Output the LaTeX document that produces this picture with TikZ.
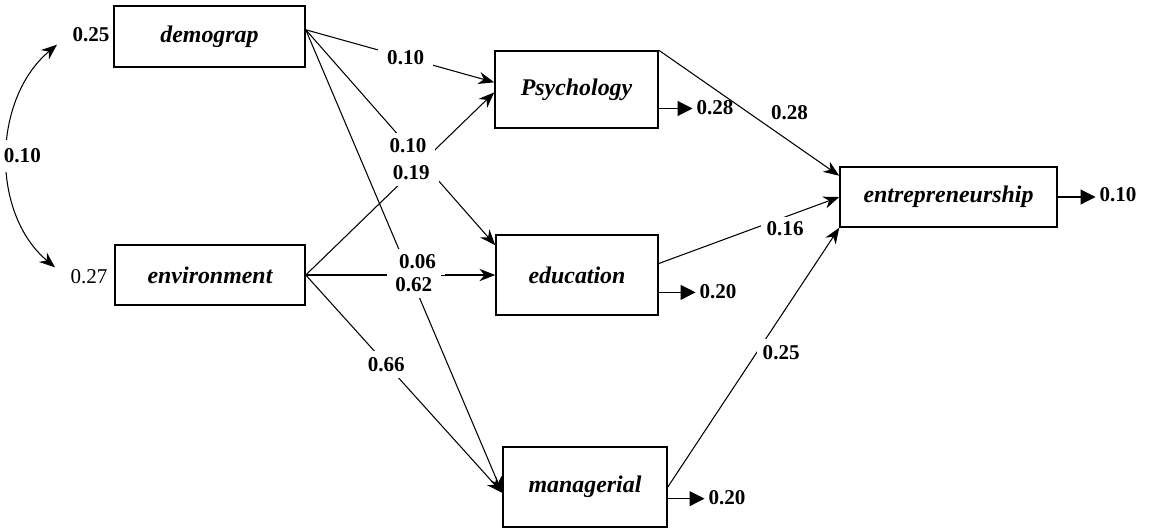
\documentclass[tikz,border=0pt]{standalone}
\usepackage{fontspec}
\setmainfont{Liberation Serif}
\usetikzlibrary{arrows.meta}

\begin{document}
\begin{tikzpicture}[x=0.02cm, y=0.02cm, line width=0.6pt, >={Stealth[length=9pt,width=7pt]}]
 \tikzstyle{every node}=[inner sep=2pt]
 \tikzstyle{var}=[draw, rectangle, line width=0.9pt, font=\fontsize{13.6}{16}\selectfont\bfseries\itshape]
 \tikzstyle{coef}=[fill=white, inner xsep=5pt, inner ysep=3.5pt, font=\fontsize{12}{14}\selectfont\bfseries]
 \tikzstyle{rlab}=[fill=white, font=\fontsize{12}{14}\selectfont\bfseries]
 \tikzstyle{res}=[-{Triangle[length=8.5pt,width=8.5pt]}]
 \useasboundingbox (0,0) rectangle (1149,-529);
 % variables
 \node[var, minimum width=3.82cm, minimum height=1.22cm] (dem) at (209.5,-36.5) {demograp};
 \node[var, minimum width=3.80cm, minimum height=1.20cm] (env) at (210,-275) {environment};
 \node[var, minimum width=3.26cm, minimum height=1.54cm] (psy) at (576.5,-89.5) {Psychology};
 \node[var, minimum width=3.24cm, minimum height=1.60cm] (edu) at (577,-275) {education};
 \node[var, minimum width=3.28cm, minimum height=1.60cm] (man) at (585,-487) {managerial};
 \node[var, minimum width=4.34cm, minimum height=1.20cm] (ent) at (948.5,-197) {entrepreneurship};
 % variances and residuals
 \node[rlab] (vdem) at (91,-35) {0.25};
 \node[rlab, font=\fontsize{12}{14}\selectfont] (venv) at (89,-277) {0.27};
 \node[rlab] (rpsy) at (715,-108) {0.28};
 \node[rlab] (redu) at (718,-292) {0.20};
 \node[rlab] (rman) at (727,-498) {0.20};
 \node[rlab] (rent) at (1118,-195) {0.10};
 % paths
 \draw[<->, shorten <=0.3cm, shorten >=0.3cm] (vdem.west) to[out=220, in=140, looseness=1.05] node[coef, xshift=0.24cm, inner xsep=2pt, inner ysep=5pt]{0.10} (venv.west);
 \draw[->] (dem.4) to node[coef, pos=0.53, inner ysep=2.5pt]{0.10} (psy.175);
 \draw[->] (dem.4) to coordinate[pos=0.54] (m1) (edu.160);
 \draw[->] (env.east) to coordinate[pos=0.56] (m2) (psy.182);
 \draw[->] (dem.4) to coordinate[pos=0.55] (m3) (man.184);
 \draw[->] (env.east) to coordinate[pos=0.59] (m4) (edu.west);
 \draw[->] (env.east) to node[coef, pos=0.41]{0.66} (man.184);
 \draw[->] (psy.north east) to node[coef, pos=0.59, anchor=south west, inner xsep=3pt, inner ysep=2.5pt]{0.28} (ent.169);
 \draw[->] (edu.8) to node[coef, pos=0.7, below, inner xsep=3pt, inner ysep=2.5pt]{0.16} (ent.west);
 \draw[->] (man.east) to node[coef, pos=0.52, right, inner xsep=3pt]{0.25} (ent.south west);
 \node[coef] at (m1) {0.10};
 \node[coef] at (m2) {0.19};
 \node[coef] at (m3) {0.62};
 \node[coef, yshift=0.26cm] at (m4) {0.06};
 % residual arrows
 \draw[res] (psy.-13) -- (psy.-13 -| rpsy.west);
 \draw[res] (edu.-12) -- (edu.-12 -| redu.west);
 \draw[res] (man.-8) -- (man.-8 -| rman.west);
 \draw[res] (ent.east) -- (ent.east -| rent.west);
\end{tikzpicture}
\end{document}
